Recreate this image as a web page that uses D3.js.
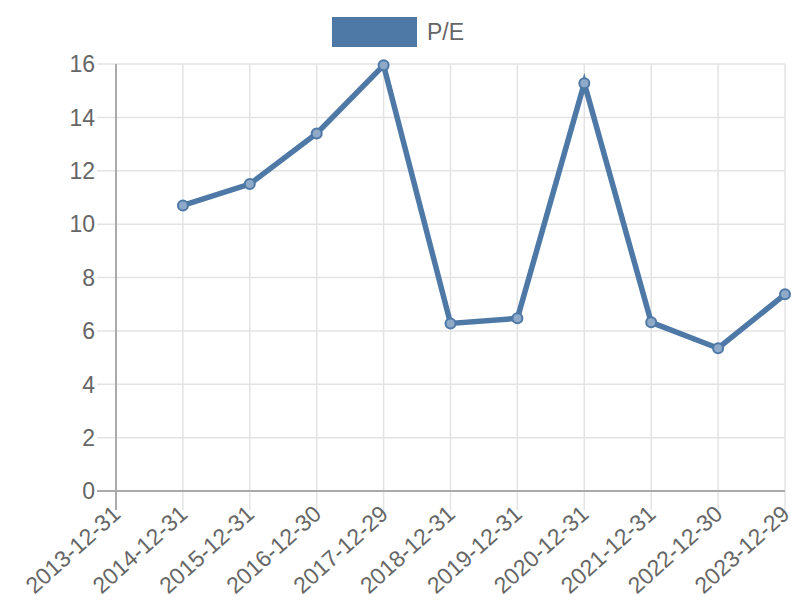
<!DOCTYPE html>
<html>
<head>
<meta charset="utf-8">
<script src="https://cdn.jsdelivr.net/npm/d3@7"></script>
<style>
  body { margin: 0; background: #fff; }
  text { font-family: "Liberation Sans", Arial, sans-serif; fill: #666; }
</style>
</head>
<body>
<svg id="chart" width="800" height="600"></svg>
<script>
const dates = ["2013-12-31", "2014-12-31", "2015-12-31", "2016-12-30", "2017-12-29",
  "2018-12-31", "2019-12-31", "2020-12-31", "2021-12-31", "2022-12-30", "2023-12-29"];
const pe = [null, 10.7, 11.5, 13.4, 15.95, 6.28, 6.47, 15.28, 6.32, 5.35, 7.37];
const yTicks = [0, 2, 4, 6, 8, 10, 12, 14, 16];
const seriesName = "P/E";

const color = "#4e79a7";
const margin = {top: 64, right: 15, bottom: 109, left: 116};
const width = 800, height = 600;
const tickLen = 19;

const svg = d3.select("#chart");

const x = d3.scalePoint()
    .domain(dates)
    .range([margin.left, width - margin.right]);

const y = d3.scaleLinear()
    .domain([0, 16])
    .range([height - margin.bottom, margin.top]);

// grid
const grid = svg.append("g");
grid.selectAll("line.v")
  .data(dates).join("line")
    .attr("x1", d => x(d)).attr("x2", d => x(d))
    .attr("y1", margin.top).attr("y2", height - margin.bottom + tickLen)
    .attr("stroke", "#e3e3e3").attr("stroke-width", 1.5);
grid.selectAll("line.h")
  .data(yTicks).join("line")
    .attr("x1", margin.left - tickLen).attr("x2", width - margin.right)
    .attr("y1", d => y(d)).attr("y2", d => y(d))
    .attr("stroke", "#e3e3e3").attr("stroke-width", 1.5);

// axis lines
svg.append("line")
  .attr("x1", margin.left).attr("x2", margin.left)
  .attr("y1", margin.top).attr("y2", height - margin.bottom + tickLen)
  .attr("stroke", "#aaa").attr("stroke-width", 2);
svg.append("line")
  .attr("x1", margin.left - tickLen).attr("x2", width - margin.right)
  .attr("y1", y(0)).attr("y2", y(0))
  .attr("stroke", "#aaa").attr("stroke-width", 2);

// y labels
svg.append("g").selectAll("text")
  .data(yTicks).join("text")
    .attr("x", margin.left - 21)
    .attr("y", d => y(d))
    .attr("dy", "0.36em")
    .attr("text-anchor", "end")
    .style("font-size", "23px")
    .text(d => d);

// x labels
svg.append("g").selectAll("text")
  .data(dates).join("text")
    .attr("transform", d => `translate(${x(d) + 6},${y(0) + 25}) rotate(-42)`)
    .attr("text-anchor", "end")
    .style("font-size", "23px")
    .text(d => d);

// line
const pts = dates.map((d, i) => ({date: d, v: pe[i]})).filter(p => p.v != null);

svg.append("path")
  .datum(pts)
  .attr("fill", "none")
  .attr("stroke", color)
  .attr("stroke-width", 5.5)
  .attr("stroke-linejoin", "miter")
  .attr("d", d3.line().x(p => x(p.date)).y(p => y(p.v)));

svg.append("g").selectAll("circle")
  .data(pts).join("circle")
    .attr("cx", p => x(p.date))
    .attr("cy", p => y(p.v))
    .attr("r", 5)
    .attr("fill", "#8fa9c8")
    .attr("stroke", color)
    .attr("stroke-width", 2);

// legend
const lg = svg.append("g");
lg.append("rect")
  .attr("x", 332).attr("y", 17).attr("width", 85).attr("height", 30)
  .attr("fill", color);
lg.append("text")
  .attr("x", 427).attr("y", 32).attr("dy", "0.36em")
  .style("font-size", "23px")
  .text(seriesName);
</script>
</body>
</html>
